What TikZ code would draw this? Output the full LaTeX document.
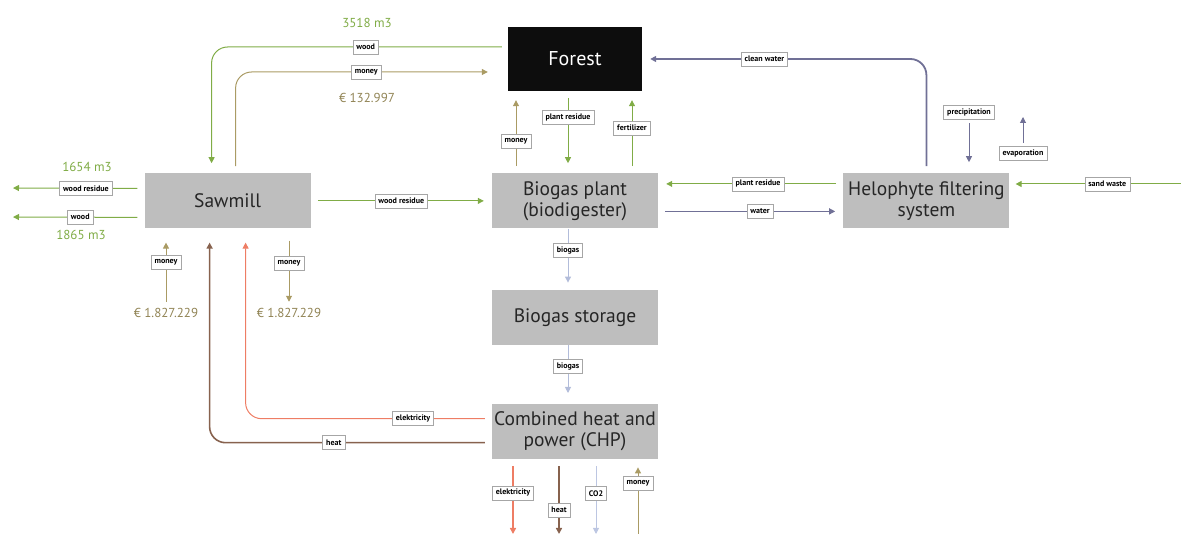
\documentclass[tikz,border=0pt]{standalone}
\usepackage[dvipsnames]{xcolor}
\usepackage{fontspec}
\setmainfont{PT Sans}
\definecolor{colorWood}{RGB}{128,172,70}
\definecolor{colorMoney}{RGB}{170,155,100}
\definecolor{colorWater}{RGB}{112,112,150}
\definecolor{colorBiogas}{RGB}{178,188,218}
\definecolor{colorCO}{RGB}{188,198,226}
\definecolor{colorPower}{RGB}{238,125,100}
\definecolor{colorHeat}{RGB}{135,98,78}
\definecolor{colorBox}{RGB}{190,190,190}
\usetikzlibrary{arrows.meta, positioning}
\tikzset{
  unit/.style={rectangle, fill=colorBox, minimum width=166pt, minimum height=55pt, inner sep=0pt, align=center, text=black!85, font=\fontsize{19.5}{21}\selectfont},
  lbl/.style={rectangle, sharp corners, fill=white, draw=gray!70, line width=0.5pt, inner xsep=3.5pt, inner ysep=2pt, minimum height=14pt, text=black, font=\bfseries\fontsize{8}{9}\selectfont},
  amount/.style={font=\fontsize{13}{15}\selectfont},
  flow/.style={->, line width=1pt, shorten >=8pt, shorten <=7pt},
}

\begin{document}
\begin{tikzpicture}[x=1pt, y=1pt, >={Triangle[length=6pt, width=6pt]}]
\useasboundingbox (0,0) rectangle (1181,537);
\node[unit, fill=black!95, text=white, minimum width=134pt, minimum height=64pt, font=\fontsize{20}{22}\selectfont] (forest) at (575,478) {Forest};
\node[unit, below=82pt of forest] (plant) {Biogas plant\\(biodigester)};
\node[unit, left=181pt of plant] (sawmill) {Sawmill};
\node[unit, right=185pt of plant] (helophyte) {Helophyte filtering\\system};
\node[unit, below=61pt of plant] (storage) {Biogas storage};
\node[unit, below=59pt of storage] (chp) {Combined heat and\\power (CHP)};

% amounts and loose ends
\node[amount, text=colorWood] (woodIn) at (367,514) {3518 m3};
\node[amount, text=colorMoney!85!black] (payForest) at (367,439) {€ 132.997};
\node[amount, text=colorWood] (residueOut) at (87,370) {1654 m3};
\node[amount, text=colorWood] (woodOut) at (81,302) {1865 m3};
\node[amount, text=colorMoney!85!black] (euroIn) at (166,224) {€ 1.827.229};
\node[amount, text=colorMoney!85!black] (euroOut) at (289,224) {€ 1.827.229};
\node[lbl] (precip) at (969,425) {precipitation};
\node[lbl] (evap) at (1023,384) {evaporation};
\coordinate (evapEnd) at (1023,420);
\coordinate (sandIn) at (1181,353);
\coordinate (residueEnd) at (5,349);
\coordinate (woodEnd) at (5,320);
\coordinate (chpOut) at (575,3);

% forest and sawmill
\draw [flow, colorWood, rounded corners=16pt, shorten <=6pt, shorten >=10pt] ([yshift=12pt]forest.west) -| node [lbl, pos=0.24]{wood} ([xshift=-16pt]sawmill.north);
\draw [flow, colorMoney, rounded corners=16pt, shorten >=20pt] ([xshift=8pt]sawmill.north) |- node [lbl, pos=0.74]{money} ([yshift=-13pt]forest.west);

% sawmill
\draw [flow, colorWood] ([yshift=12.5pt]sawmill.west) -- node [lbl, pos=0.42]{wood residue} (residueEnd);
\draw [flow, colorWood] ([yshift=-16.5pt]sawmill.west) -- node [lbl, pos=0.46]{wood} (woodEnd);
\draw [flow, colorWood] (sawmill) -- node [lbl]{wood residue} (plant);
\draw [flow, colorMoney, shorten <=3pt, shorten >=14pt] (euroIn) -- node [lbl, pos=0.56]{money} (euroIn |- sawmill.south);
\draw [flow, colorMoney, shorten <=12pt, shorten >=3pt] (euroOut |- sawmill.south) -- node [lbl, pos=0.45]{money} (euroOut);

% chp to sawmill
\draw [flow, colorHeat, line width=1.6pt, rounded corners=16pt, shorten >=14pt] ([yshift=-11pt]chp.west) -| node [lbl, pos=0.28]{heat} ([xshift=-18pt]sawmill.south);
\draw [flow, colorPower, rounded corners=16pt, shorten >=14pt] ([yshift=13pt]chp.west) -| node [lbl, pos=0.16]{elektricity} ([xshift=18pt]sawmill.south);

% biogas plant and forest
\draw [flow, colorMoney, shorten >=9pt] ([xshift=-59pt]plant.north) -- node [lbl, pos=0.39]{money} ([xshift=-59pt]forest.south);
\draw [flow, colorWood, shorten >=10pt] ([xshift=-7pt]forest.south) -- node [lbl, pos=0.32]{plant residue} ([xshift=-7pt]plant.north);
\draw [flow, colorWood, shorten >=9pt] ([xshift=57pt]plant.north) -- node [lbl, pos=0.55]{fertilizer} ([xshift=57pt]forest.south);

% helophyte filter
\draw [flow, colorWater, line width=1.8pt, rounded corners=16pt] (helophyte.north) |- node [lbl, pos=0.785]{clean water} (forest.east);
\draw [flow, colorWood] ([yshift=17pt]helophyte.west) -- node [lbl, pos=0.46]{plant residue} ([yshift=17pt]plant.east);
\draw [flow, colorWater, line width=1.3pt] ([yshift=-10.5pt]plant.east) -- node [lbl, pos=0.55]{water} ([yshift=-10.5pt]helophyte.west);
\draw [flow, colorWood, shorten <=0pt, shorten >=6pt] (sandIn) -- node [lbl, pos=0.43]{sand waste} (sandIn -| helophyte.east);
\draw [flow, colorWater, shorten <=4pt, shorten >=11pt] (precip) -- (precip |- helophyte.north);
\draw [flow, colorWater, shorten <=3pt, shorten >=0pt] (evap) -- (evapEnd);

% biogas
\draw [flow, colorBiogas, shorten <=0pt, shorten >=7pt] ([xshift=-7pt]plant.south) -- node [lbl, pos=0.36]{biogas} ([xshift=-7pt]storage.north);
\draw [flow, colorBiogas, shorten <=0pt, shorten >=11pt] ([xshift=-7pt]storage.south) -- node [lbl, pos=0.36]{biogas} ([xshift=-7pt]chp.north);

% chp outputs
\draw [flow, colorPower, line width=1.5pt, shorten >=0pt] ([xshift=-62pt]chp.south) -- node [lbl, pos=0.45]{elektricity} ([xshift=-62pt]chpOut);
\draw [flow, colorHeat, line width=1.5pt, shorten >=0pt] ([xshift=-16pt]chp.south) -- node [lbl, pos=0.68]{heat} ([xshift=-16pt]chpOut);
\draw [flow, colorCO, shorten >=0pt] ([xshift=21pt]chp.south) -- node [lbl, pos=0.46]{CO2} ([xshift=21pt]chpOut);
\draw [flow, colorMoney, shorten <=0pt] ([xshift=63pt]chpOut) -- node [lbl, pos=0.68]{money} ([xshift=63pt]chp.south);
\end{tikzpicture}
\end{document}
